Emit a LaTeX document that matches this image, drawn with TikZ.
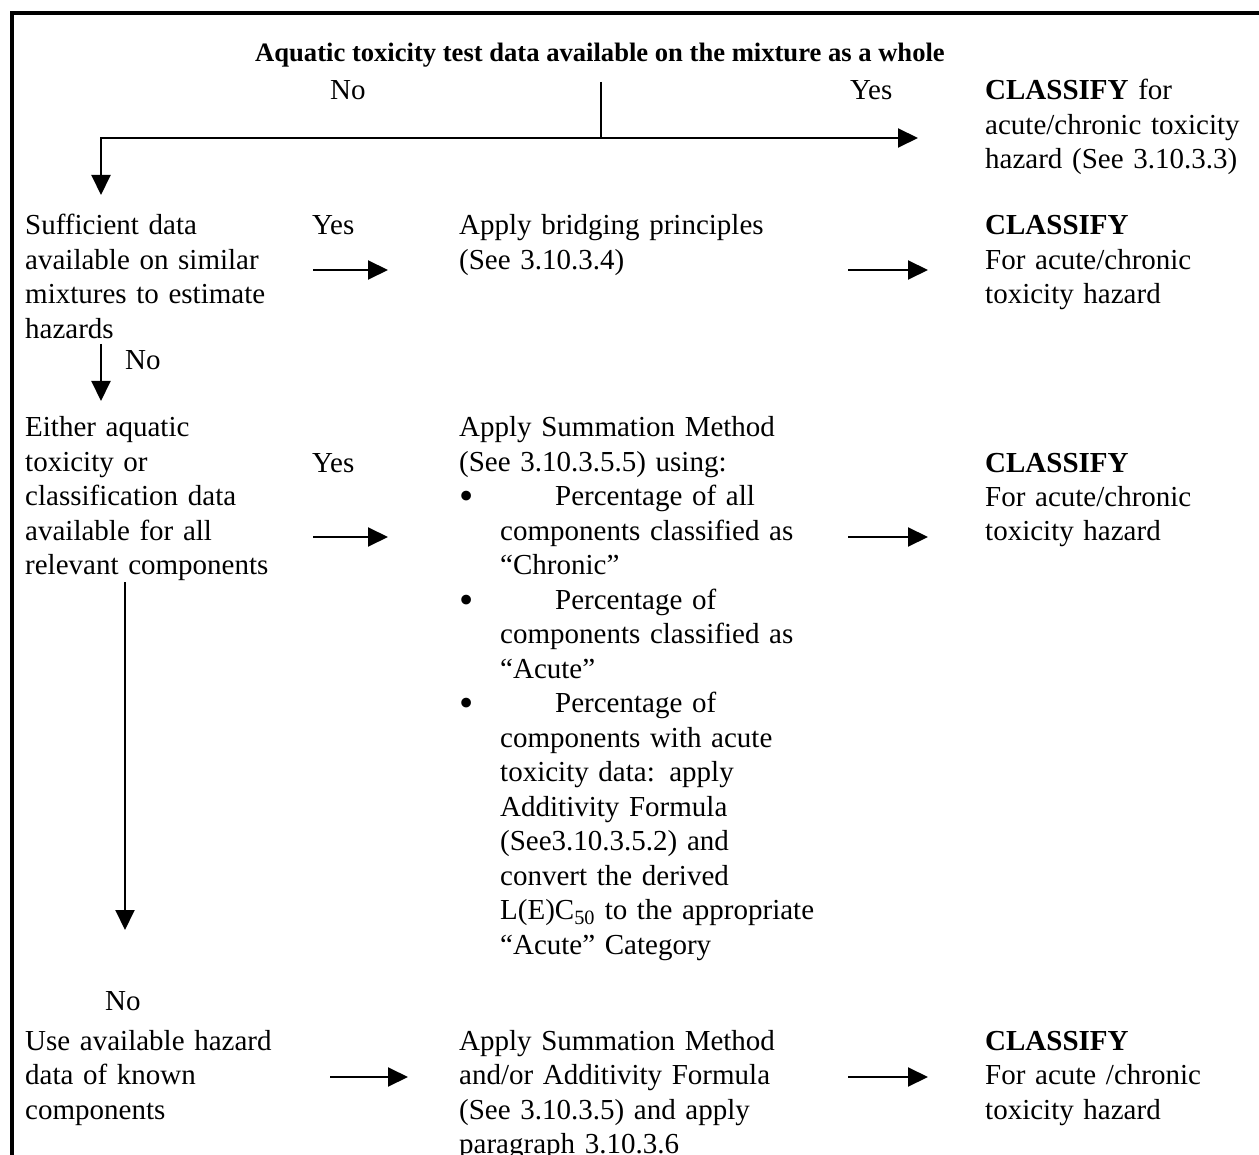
\documentclass[tikz,border=0pt]{standalone}
\usepackage{fontspec}
\setmainfont{Liberation Serif}
\usetikzlibrary{arrows.meta}
\newcommand{\bulitem}[1]{\makebox[96pt][l]{\raisebox{-4pt}{\scalebox{1.4}{\textbullet}}}#1}
\newcommand{\contline}{\hspace*{41pt}}

\begin{document}
\begin{tikzpicture}[x=1pt,y=-1pt,
  txt/.style={anchor=base west,inner sep=0pt,align=left,text width=#1,
    font=\fontsize{29}{34.5}\selectfont},
  txt/.default=400pt,
  arr/.style={line width=2pt,-{Triangle[length=20pt,width=19pt]}}]
\useasboundingbox (0,0) rectangle (1259,1155);

% frame
\draw[line width=4pt] (12,1160) -- (12,13) -- (1262,13);

% question: test data
\node[anchor=base,inner sep=0pt,font=\fontsize{26.6}{32}\selectfont\bfseries] (title) at (600,62)
  {Aquatic toxicity test data available on the mixture as a whole};
\node[txt] (no1)  at (330,100) {No};
\node[txt] (yes1) at (850,100) {Yes};
\node[txt=280pt] (cls1) at (985,100)
  {\textbf{CLASSIFY} for\\acute/chronic toxicity\\hazard (See 3.10.3.3)};

\coordinate (q)  at (601,82);
\coordinate (qj) at (601,138);
\coordinate (ql) at (101,138);
\coordinate (qr) at (918,138);
\coordinate (qd) at (101,195);
\draw[line width=2pt] (q) -- (qj);
\draw[arr] (qj) -- (qr);
\draw[arr] (qj) -- (ql) -- (qd);

% similar mixtures
\node[txt=280pt] (suff) at (25,235)
  {Sufficient data\\available on similar\\mixtures to estimate\\hazards};
\node[txt] (yes2) at (312,235) {Yes};
\node[txt] (brid) at (459,235) {Apply bridging principles\\(See 3.10.3.4)};
\node[txt=280pt] (cls2) at (985,235)
  {\textbf{CLASSIFY}\\For acute/chronic\\toxicity hazard};
\node[txt] (no2) at (125,370) {No};

\coordinate (a2) at (313,270);
\coordinate (b2) at (388,270);
\coordinate (c2) at (848,270);
\coordinate (d2) at (928,270);
\coordinate (e2) at (101,344);
\coordinate (f2) at (101,401);
\draw[arr] (a2) -- (b2);
\draw[arr] (c2) -- (d2);
\draw[arr] (e2) -- (f2);

% components data
\node[txt=280pt] (eith) at (25,437)
  {Either aquatic\\toxicity or\\classification data\\available for all\\relevant components};
\node[txt] (yes3) at (312,472) {Yes};
\node[txt] (summ) at (459,437)
  {Apply Summation Method\\
   (See 3.10.3.5.5) using:\\
   \bulitem{Percentage of all}\\
   \contline components classified as\\
   \contline “Chronic”\\
   \bulitem{Percentage of}\\
   \contline components classified as\\
   \contline “Acute”\\
   \bulitem{Percentage of}\\
   \contline components with acute\\
   \contline toxicity data: apply\\
   \contline Additivity Formula\\
   \contline (See3.10.3.5.2) and\\
   \contline convert the derived\\
   \contline L(E)C\textsubscript{50} to the appropriate\\
   \contline “Acute” Category};
\node[txt=280pt] (cls3) at (985,472)
  {\textbf{CLASSIFY}\\For acute/chronic\\toxicity hazard};
\node[txt] (no3) at (105,1010) {No};

\coordinate (a3) at (313,537);
\coordinate (b3) at (388,537);
\coordinate (c3) at (848,537);
\coordinate (d3) at (928,537);
\coordinate (e3) at (125,582);
\coordinate (f3) at (125,930);
\draw[arr] (a3) -- (b3);
\draw[arr] (c3) -- (d3);
\draw[arr] (e3) -- (f3);

% known components
\node[txt=280pt] (use) at (25,1050)
  {Use available hazard\\data of known\\components};
\node[txt] (summ2) at (459,1050)
  {Apply Summation Method\\and/or Additivity Formula\\(See 3.10.3.5) and apply\\paragraph 3.10.3.6};
\node[txt=280pt] (cls4) at (985,1050)
  {\textbf{CLASSIFY}\\For acute /chronic\\toxicity hazard};

\coordinate (a4) at (330,1077);
\coordinate (b4) at (408,1077);
\coordinate (c4) at (848,1077);
\coordinate (d4) at (928,1077);
\draw[arr] (a4) -- (b4);
\draw[arr] (c4) -- (d4);

\end{tikzpicture}
\end{document}
